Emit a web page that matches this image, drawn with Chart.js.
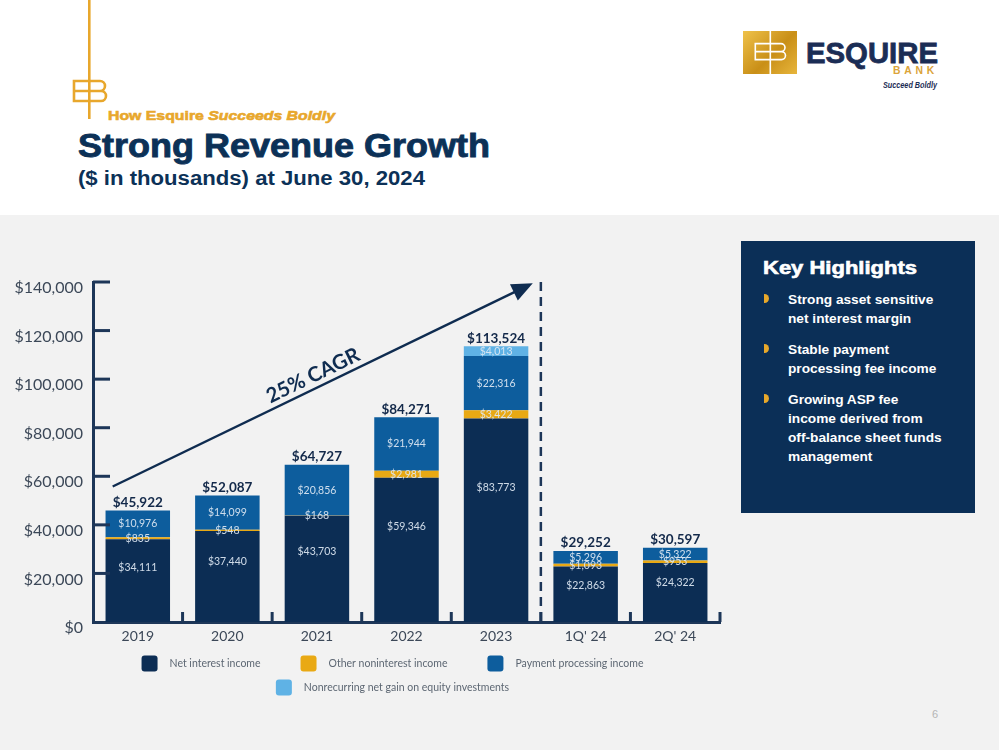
<!DOCTYPE html>
<html>
<head>
<meta charset="utf-8">
<script src="https://cdn.jsdelivr.net/npm/chart.js@4.4.1/dist/chart.umd.min.js"></script>
<style>
body{margin:0;width:999px;height:750px;position:relative;overflow:hidden;background:#fff;font-family:"Liberation Sans",Arial,sans-serif;}
.band{position:absolute;left:0;top:215px;width:999px;height:535px;background:#f2f2f2;}
.t{position:absolute;white-space:nowrap;line-height:1;transform-origin:0 50%;font-weight:bold;}
.navy{color:#0c3157;}
#kh{position:absolute;left:741px;top:241px;width:234px;height:272px;background:#0b2f57;}
.bl{position:absolute;left:47px;width:185px;font-size:13.7px;line-height:19px;font-weight:bold;color:#fff;}
.dot{position:absolute;left:23px;width:5px;height:9px;background:#e8a82a;border-radius:0 5px 5px 0;}
#chartBox{position:absolute;left:0;top:255px;width:730px;height:450px;}
</style>
</head>
<body>
<div class="band"></div>

<!-- header mark -->
<svg style="position:absolute;left:0;top:0" width="130" height="125">
  <g fill="none" stroke="#e8a72c" stroke-width="2.6">
    <line x1="89.3" y1="0" x2="89.3" y2="119"/>
    <path d="M89.3 81 H74 V101 H89.3 M74 91 H89.3"/>
    <path d="M89.3 81 H100 a5 5 0 0 1 0 10 H89.3 M89.3 91 H101 a5 5 0 0 1 0 10 H89.3"/>
  </g>
</svg>
<div class="t" id="kicker" style="left:108px;top:109px;font-size:13px;color:#e8a72c;-webkit-text-stroke:0.6px #e8a72c;">How Esquire <i>Succeeds Boldly</i></div>
<div class="t navy" id="title" style="left:78px;top:128.6px;font-size:33.5px;-webkit-text-stroke:0.9px #0c3157;">Strong Revenue Growth</div>
<div class="t navy" id="sub" style="left:78px;top:169.1px;font-size:19.5px;">($ in thousands) at June 30, 2024</div>

<!-- logo -->
<div style="position:absolute;left:742.7px;top:30.7px;width:54.6px;height:43.3px;background:linear-gradient(135deg,#efc24a,#c98f17 55%,#e7b53c);"></div>
<svg style="position:absolute;left:742.7px;top:30.7px" width="55" height="44">
  <g fill="none" stroke="#fff" stroke-width="1.6">
    <line x1="27.3" y1="0" x2="27.3" y2="43.3"/>
    <path d="M27.3 12.6 H12.3 V28.6 H27.3 M12.3 20.6 H27.3"/>
    <path d="M27.3 12.6 H38 a4 4 0 0 1 0 8 H27.3 M27.3 20.6 H38.5 a4 4 0 0 1 0 8 H27.3"/>
  </g>
</svg>
<div class="t" id="esq" style="left:806px;top:37.8px;font-size:30px;color:#1b2d55;-webkit-text-stroke:0.8px #1b2d55;">ESQUIRE</div>
<div class="t" id="bank" style="left:893px;top:64.6px;font-size:11px;color:#dba43a;letter-spacing:4px;">BANK</div>
<div class="t" id="sb" style="left:883px;top:80.8px;font-size:8.5px;color:#1b2d55;font-style:italic;">Succeed Boldly</div>

<!-- chart -->
<div id="chartBox"><canvas id="revChart" width="730" height="450"></canvas></div>

<!-- highlights -->
<div id="kh">
  <div class="t" id="khTitle" style="left:22px;top:17.7px;font-size:18px;color:#fff;-webkit-text-stroke:0.6px #fff;">Key Highlights</div>
  <div class="dot" style="top:53px"></div>
  <div class="bl" style="top:48.6px">Strong asset sensitive<br>net interest margin</div>
  <div class="dot" style="top:103px"></div>
  <div class="bl" style="top:98.6px">Stable payment<br>processing fee income</div>
  <div class="dot" style="top:153px"></div>
  <div class="bl" style="top:148.6px">Growing ASP fee<br>income derived from<br>off-balance sheet funds<br>management</div>
</div>

<div class="t" style="left:932px;top:709px;font-size:11px;font-weight:normal;color:#b5b5b5;">6</div>

<script>
var categories = ['2019', '2020', '2021', '2022', '2023', "1Q' 24", "2Q' 24"];
var netInterest = [34111, 37440, 43703, 59346, 83773, 22863, 24322];
var otherNonint = [835, 548, 168, 2981, 3422, 1093, 953];
var paymentProc = [10976, 14099, 20856, 21944, 22316, 5296, 5322];
var equityGain = [null, null, null, null, 4013, null, null];
var totals = [45922, 52087, 64727, 84271, 113524, 29252, 30597];
var yTicks = [0, 20000, 40000, 60000, 80000, 100000, 120000, 140000];
var seriesNames = ['Net interest income', 'Other noninterest income', 'Payment processing income', 'Nonrecurring net gain on equity investments'];

var AXIS = '#1d3658';

function money(v){
  return '$' + v.toLocaleString('en-US');
}

// squeeze / stretch header texts to the widths on the slide
function fitText(id, w){
  var el = document.getElementById(id);
  var r = el.getBoundingClientRect().width;
  el.style.transform = 'scaleX(' + (w / r) + ')';
}
fitText('kicker', 227);
fitText('title', 412);
fitText('sub', 347);
fitText('khTitle', 154);
fitText('esq', 132);
fitText('bank', 45);
fitText('sb', 54);

// value labels inside the bars + totals on top
var labelPlugin = {
  id: 'valueLabels',
  afterDatasetsDraw: function(chart){
    var ctx = chart.ctx;
    ctx.save();
    ctx.textAlign = 'center';
    ctx.textBaseline = 'middle';
    ctx.font = '10.5px Lato';
    ctx.fillStyle = 'rgba(222,232,243,0.92)';
    chart.data.datasets.forEach(function(ds, di){
      var meta = chart.getDatasetMeta(di);
      meta.data.forEach(function(bar, i){
        var v = ds.data[i];
        if (v == null) return;
        var y = di === 0 ? bar.base - (bar.base - bar.y) * 0.66 : (bar.y + bar.base) / 2;
        ctx.fillText(money(v), bar.x, y);
      });
    });
    var yS = chart.scales.y;
    var m0 = chart.getDatasetMeta(0);
    ctx.font = 'bold 13.5px Lato';
    ctx.fillStyle = '#13294a';
    ctx.textBaseline = 'alphabetic';
    totals.forEach(function(t, i){
      ctx.fillText(money(t), m0.data[i].x, yS.getPixelForValue(t) - 3.5);
    });
    ctx.restore();
  }
};

// inner tick marks, dashed divider, CAGR arrow
var decoPlugin = {
  id: 'deco',
  afterDraw: function(chart){
    var ctx = chart.ctx, ca = chart.chartArea;
    var xS = chart.scales.x, yS = chart.scales.y;
    ctx.save();
    ctx.strokeStyle = AXIS;
    ctx.lineWidth = 3;
    yTicks.forEach(function(v){
      if (v === 0) return;
      var py = yS.getPixelForValue(v);
      ctx.beginPath(); ctx.moveTo(ca.left, py); ctx.lineTo(ca.left + 17, py); ctx.stroke();
    });
    for (var k = 1; k <= categories.length; k++){
      var px = xS.getPixelForValue(k - 0.5);
      ctx.beginPath(); ctx.moveTo(px, ca.bottom); ctx.lineTo(px, ca.bottom - 10); ctx.stroke();
    }
    // divider between years and quarters
    var dx = xS.getPixelForValue(4.5);
    ctx.setLineDash([9, 6]);
    ctx.lineWidth = 2.5;
    ctx.beginPath(); ctx.moveTo(dx, ca.top); ctx.lineTo(dx, ca.bottom); ctx.stroke();
    ctx.setLineDash([]);

    // growth arrow
    var x1 = xS.getPixelForValue(-0.28), y1 = yS.getPixelForValue(55800);
    var x2 = xS.getPixelForValue(4.41), y2 = yS.getPixelForValue(139500);
    var a = Math.atan2(y2 - y1, x2 - x1);
    ctx.strokeStyle = '#0f2c50';
    ctx.fillStyle = '#0f2c50';
    ctx.lineWidth = 2.4;
    ctx.beginPath(); ctx.moveTo(x1, y1);
    ctx.lineTo(x2 - 17 * Math.cos(a), y2 - 17 * Math.sin(a)); ctx.stroke();
    ctx.beginPath();
    ctx.moveTo(x2, y2);
    ctx.lineTo(x2 - 21 * Math.cos(a) + 9 * Math.sin(a), y2 - 21 * Math.sin(a) - 9 * Math.cos(a));
    ctx.lineTo(x2 - 21 * Math.cos(a) - 9 * Math.sin(a), y2 - 21 * Math.sin(a) + 9 * Math.cos(a));
    ctx.closePath(); ctx.fill();
    var t = 0.49;
    ctx.translate(x1 + (x2 - x1) * t, y1 + (y2 - y1) * t);
    ctx.rotate(a);
    ctx.font = 'bold 20.5px Lato';
    ctx.textAlign = 'center';
    ctx.fillText('25% CAGR', 0, -6);
    ctx.restore();
  }
};

// legend laid out like the slide (two centred rows)
var legendPlugin = {
  id: 'slideLegend',
  afterDraw: function(chart){
    var ctx = chart.ctx, ca = chart.chartArea;
    ctx.save();
    ctx.font = '10.5px Lato';
    ctx.textBaseline = 'middle';
    ctx.textAlign = 'left';
    var gap = 40, maxW = ca.right - ca.left;
    var rows = [[]], rw = [0];
    chart.data.datasets.forEach(function(ds){
      var it = {text: ds.label, color: ds.backgroundColor, w: 28 + ctx.measureText(ds.label).width};
      var r = rows.length - 1;
      var add = (rows[r].length ? gap : 0) + it.w;
      if (rows[r].length && rw[r] + add > maxW){ rows.push([it]); rw.push(it.w); }
      else { rows[r].push(it); rw[r] += add; }
    });
    var cx = (ca.left + ca.right) / 2 - 14;
    rows.forEach(function(row, r){
      var x = cx - rw[r] / 2, y = ca.bottom + 41.5 + r * 24;
      row.forEach(function(it){
        ctx.fillStyle = it.color;
        ctx.beginPath(); ctx.roundRect(x, y - 8, 16, 16, 3); ctx.fill();
        ctx.fillStyle = '#5d6773';
        ctx.fillText(it.text, x + 28, y + 0.5);
        x += it.w + gap;
      });
    });
    ctx.restore();
  }
};

var barOpts = {barPercentage: 0.72, categoryPercentage: 1, borderWidth: 0};
new Chart(document.getElementById('revChart').getContext('2d'), {
  type: 'bar',
  data: {
    labels: categories,
    datasets: [
      Object.assign({label: seriesNames[0], data: netInterest, backgroundColor: '#0c2d54'}, barOpts),
      Object.assign({label: seriesNames[1], data: otherNonint, backgroundColor: '#e9a914'}, barOpts),
      Object.assign({label: seriesNames[2], data: paymentProc, backgroundColor: '#0d5d9d'}, barOpts),
      Object.assign({label: seriesNames[3], data: equityGain, backgroundColor: '#5fb2e5'}, barOpts)
    ]
  },
  options: {
    responsive: false,
    animation: false,
    layout: {padding: {top: 27, right: 10, left: 0, bottom: 0}},
    plugins: {legend: {display: false}, tooltip: {enabled: false}},
    scales: {
      x: {
        stacked: true,
        grid: {display: false, drawTicks: false, tickLength: 0},
        border: {display: true, color: AXIS, width: 3},
        ticks: {font: {family: 'Lato', size: 14}, color: '#3c4858', padding: 6},
        afterFit: function(s){ s.height = 83; }
      },
      y: {
        stacked: true,
        min: 0, max: 140000,
        grid: {display: false, drawTicks: false, tickLength: 0},
        border: {display: true, color: AXIS, width: 3},
        afterBuildTicks: function(s){ s.ticks = yTicks.map(function(v){ return {value: v}; }); },
        ticks: {
          font: {family: 'Lato', size: 16}, color: '#3c4858', padding: 10, labelOffset: 6,
          callback: function(v){ return money(v); }
        },
        afterFit: function(s){ s.width = 93; }
      }
    }
  },
  plugins: [labelPlugin, decoPlugin, legendPlugin]
});
</script>
</body>
</html>
